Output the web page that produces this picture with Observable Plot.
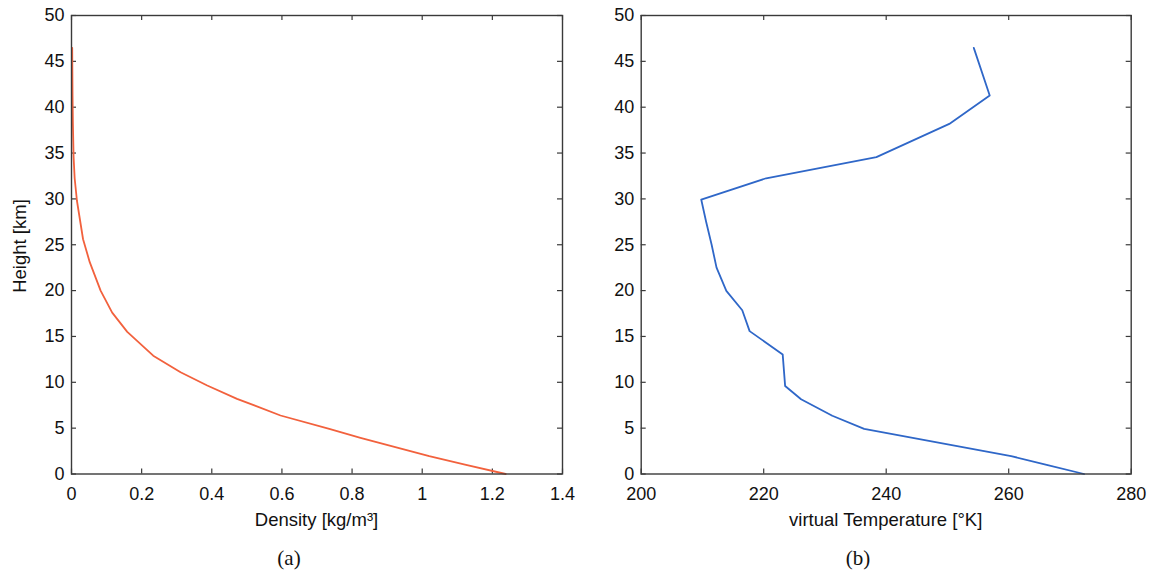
<!DOCTYPE html>
<html>
<head>
<meta charset="utf-8">
<script src="https://cdn.jsdelivr.net/npm/d3@7"></script>
<script src="https://cdn.jsdelivr.net/npm/@observablehq/plot@0.6"></script>
<style>
  html, body { margin: 0; padding: 0; background: #fff; }
  #wrap { position: relative; width: 1152px; height: 576px; overflow: hidden; font-family: "Liberation Sans", Arial, sans-serif; }
  .panel { position: absolute; top: 0; }
  .lbl { position: absolute; font-size: 18.5px; color: #111; white-space: nowrap; transform: translate(-50%, -50%); }
  .cap { position: absolute; font-family: "Liberation Serif", "Times New Roman", serif; font-size: 21px; color: #111; transform: translate(-50%, -50%); }
  .ylbl { position: absolute; font-size: 18.5px; color: #111; white-space: nowrap; transform: translate(-50%, -50%) rotate(-90deg); }
</style>
</head>
<body>
<div id="wrap"></div>
<script>
// ---- Data ----
const densityHeight = [0, 1, 1.95, 3.95, 4.92, 6.38, 8.2, 9.65, 11.1, 12.9, 15.5, 17.6, 20.0, 23.1, 25.6, 29.8, 32.25, 34.55, 38.18, 41.27, 46.47];
const densityValue  = [1.238, 1.125, 1.02, 0.824, 0.735, 0.596, 0.472, 0.387, 0.311, 0.233, 0.159, 0.116, 0.083, 0.052, 0.033, 0.0155, 0.009, 0.006, 0.004, 0.003, 0.002];

const tempHeight   = [0, 1.0, 1.95, 4.92, 6.35, 8.15, 9.59, 13.04, 15.58, 17.86, 19.97, 22.5, 25, 27.5, 29.93, 32.25, 34.55, 38.18, 41.27, 46.47];
const virtualTemp  = [272.3, 266.2, 260.4, 236.4, 231.2, 226.1, 223.5, 223.1, 217.7, 216.5, 213.9, 212.3, 211.5, 210.6, 209.8, 220.4, 238.4, 250.3, 256.9, 254.3];

const heightTicks  = [0, 5, 10, 15, 20, 25, 30, 35, 40, 45, 50];
const densityTicks = [0, 0.2, 0.4, 0.6, 0.8, 1, 1.2, 1.4];
const tempTicks    = [200, 220, 240, 260, 280];

const densityLabel = "Density [kg/m³]";
const tempLabel    = "virtual Temperature [°K]";
const heightLabel  = "Height [km]";

// ---- Layout ----
const H = 505, mTop = 15, mBottom = 31.5;
const frameColor = "#3a3a3a";
const tickLen = 5;
const innerH = H - mTop - mBottom;
const tickFont = 18;

function panel({data, xKey, xDomain, xTicks, color, mLeft, mRight, width}) {
  const innerW = width - mLeft - mRight;
  return Plot.plot({
    width, height: H,
    marginTop: mTop, marginBottom: mBottom, marginLeft: mLeft, marginRight: mRight,
    style: {fontSize: tickFont + "px", fontFamily: "'Liberation Sans', Arial, sans-serif", color: "#111", background: "transparent", overflow: "visible"},
    x: {domain: xDomain, nice: false},
    y: {domain: [0, 50], nice: false},
    marks: [
      Plot.axisX(xTicks, {tickSize: 0, tickPadding: 13, fontSize: tickFont, tickFormat: d => String(d), label: null}),
      Plot.axisY(heightTicks, {tickSize: 0, tickPadding: 7, fontSize: tickFont, tickFormat: d => String(d), label: null}),
      // inward ticks on all four sides
      Plot.tickX(xTicks, {x: d => d, stroke: frameColor, strokeWidth: 1.2, insetTop: innerH - tickLen}),
      Plot.tickX(xTicks, {x: d => d, stroke: frameColor, strokeWidth: 1.2, insetBottom: innerH - tickLen}),
      Plot.tickY(heightTicks, {y: d => d, stroke: frameColor, strokeWidth: 1.2, insetRight: innerW - tickLen}),
      Plot.tickY(heightTicks, {y: d => d, stroke: frameColor, strokeWidth: 1.2, insetLeft: innerW - tickLen}),
      Plot.line(data, {x: xKey, y: "h", stroke: color, strokeWidth: 1.8, curve: "linear"}),
      Plot.frame({stroke: frameColor, strokeWidth: 1.4})
    ]
  });
}

const densityData = densityHeight.map((h, i) => ({h, v: densityValue[i]}));
const tempData = tempHeight.map((h, i) => ({h, v: virtualTemp[i]}));

const wrap = document.getElementById("wrap");

const left = panel({data: densityData, xKey: "v", xDomain: [0, 1.4], xTicks: densityTicks, color: "#f2613d", mLeft: 71, mRight: 14, width: 576});
left.classList.add("panel");
left.style.position = "absolute";
left.style.left = "0px";
wrap.appendChild(left);

const right = panel({data: tempData, xKey: "v", xDomain: [200, 280], xTicks: tempTicks, color: "#2f67c8", mLeft: 64.7, mRight: 21.3, width: 576});
right.classList.add("panel");
right.style.position = "absolute";
right.style.left = "576px";
wrap.appendChild(right);

function addText(cls, text, x, y) {
  const d = document.createElement("div");
  d.className = cls;
  d.textContent = text;
  d.style.left = x + "px";
  d.style.top = y + "px";
  wrap.appendChild(d);
}
addText("lbl", densityLabel, 316.5, 520);
addText("lbl", tempLabel, 885.7, 520);
addText("ylbl", heightLabel, 20, 246);
addText("cap", "(a)", 289, 558);
addText("cap", "(b)", 858, 558);
</script>
</body>
</html>
